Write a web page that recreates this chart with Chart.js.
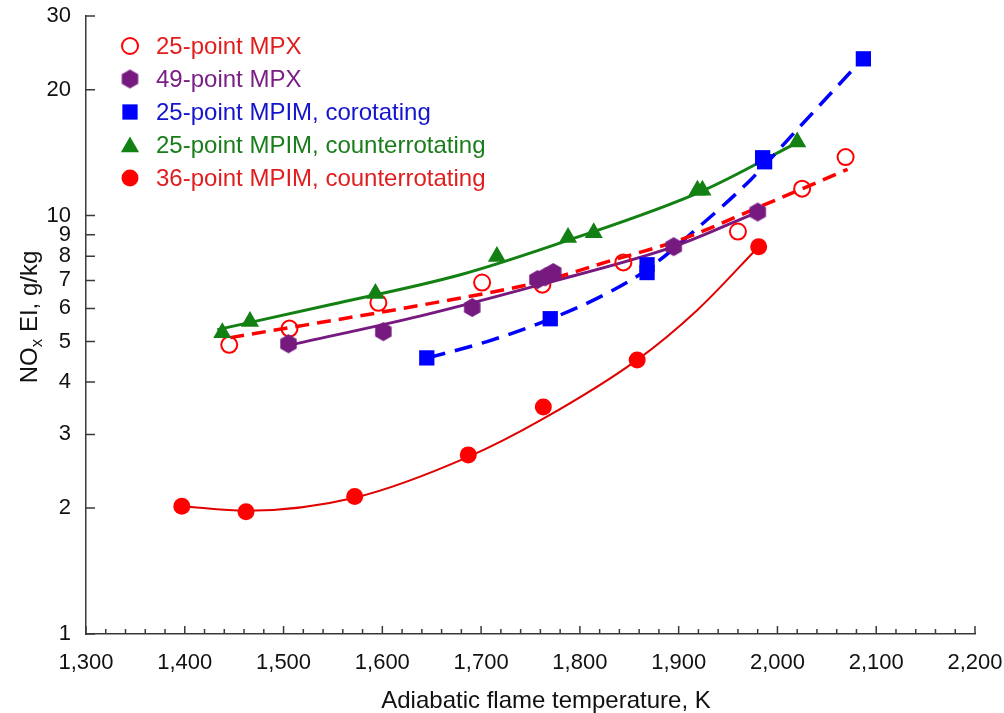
<!DOCTYPE html>
<html>
<head>
<meta charset="utf-8">
<title>NOx emission index vs adiabatic flame temperature</title>
<script src="https://cdn.jsdelivr.net/npm/chart.js@4.4.1/dist/chart.umd.min.js"></script>
<style>
  html, body { margin: 0; padding: 0; background: #fff; }
  canvas { display: block; }
</style>
</head>
<body>
<canvas id="myChart" width="1004" height="713"></canvas>
<script>
// axis setup
const xMin = 1300, xMax = 2200, xMajorStep = 100, xMinorStep = 20;
const xTicks = [1300, 1400, 1500, 1600, 1700, 1800, 1900, 2000, 2100, 2200];
const yTicks = [1, 2, 3, 4, 5, 6, 7, 8, 9, 10, 20, 30];

// measured points (temperature in K, NOx EI in g/kg)
const mpx25Temp = [1445, 1506, 1596, 1701, 1762, 1844, 1960, 2025, 2069];
const mpx25NOx  = [4.91, 5.37, 6.19, 6.92, 6.84, 7.73, 9.16, 11.6, 13.8];

const mpx49Temp = [1505, 1601, 1691, 1757, 1765, 1773, 1895, 1980];
const mpx49NOx  = [4.94, 5.28, 6.03, 7.03, 7.14, 7.31, 8.43, 10.2];

const coRotTemp = [1645, 1770, 1868, 1868, 1985, 1987, 2087];
const coRotNOx  = [4.57, 5.67, 7.31, 7.63, 13.75, 13.45, 23.7];

const ctr25Temp = [1438, 1466, 1593, 1716, 1788, 1814, 1919, 1924, 2020];
const ctr25NOx  = [5.25, 5.58, 6.51, 7.98, 8.86, 9.10, 11.5, 11.5, 15.0];

const ctr36Temp = [1397, 1462, 1572, 1687, 1763, 1858, 1981];
const ctr36NOx  = [2.02, 1.96, 2.13, 2.68, 3.49, 4.52, 8.43];

// trend curves
const mpx25FitTemp = [1446, 1659, 1760, 1828, 1902, 1980, 2071];
const mpx25FitNOx  = [5.11, 6.23, 6.95, 7.76, 8.76, 10.45, 12.9];

const mpx49FitTemp = [1507, 1639, 1760, 1895, 1980];
const mpx49FitNOx  = [4.91, 5.76, 6.84, 8.43, 10.2];

const coRotFitTemp = [1646, 1706, 1766, 1827, 1868, 1915, 1973, 2020, 2084];
const coRotFitNOx  = [4.57, 5.00, 5.61, 6.51, 7.43, 9.16, 12.19, 16.06, 23.36];

const ctr25FitTemp = [1433, 1547, 1679, 1790, 1922, 2020];
const ctr25FitNOx  = [5.34, 6.12, 7.22, 8.76, 11.4, 14.95];

const ctr36FitTemp = [1397, 1462, 1573, 1687, 1763, 1858, 1919, 1980];
const ctr36FitNOx  = [2.02, 1.97, 2.12, 2.65, 3.27, 4.52, 5.95, 8.38];

const RED = '#FF0000', PURPLE = '#761A80', BLUE = '#0000FF', GREEN = '#138013';
const AXIS = '#3A3A3A', TEXT = '#111111';
const FONT = '"Liberation Sans", Arial, sans-serif';

const pts = (xs, ys) => xs.map((v, i) => ({ x: v, y: ys[i] }));

// hexagon marker with pointy top, Chart.js has no built-in one
function makeHexagon(r, color) {
  const c = document.createElement('canvas');
  const w = Math.ceil(2 * r * Math.cos(Math.PI / 6)) + 2, h = Math.ceil(2 * r) + 2;
  c.width = w; c.height = h;
  const g = c.getContext('2d');
  g.fillStyle = color;
  g.beginPath();
  for (let k = 0; k < 6; k++) {
    const a = -Math.PI / 2 + k * Math.PI / 3;
    const px = w / 2 + r * Math.cos(a), py = h / 2 + r * Math.sin(a);
    if (k) g.lineTo(px, py); else g.moveTo(px, py);
  }
  g.closePath();
  g.fill();
  return c;
}
const hexagon = makeHexagon(9.5, PURPLE);

function markers(label, xs, ys, style, radius, fill, stroke, textColor, order) {
  return {
    label, data: pts(xs, ys), showLine: false, order,
    pointStyle: style, pointRadius: radius, pointHoverRadius: radius,
    pointBackgroundColor: fill, pointBorderColor: stroke,
    pointBorderWidth: fill === 'transparent' ? 2 : 0,
    textColor
  };
}

function curve(xs, ys, color, width, dash) {
  return {
    label: '', data: pts(xs, ys), showLine: true, order: 10,
    borderColor: color, borderWidth: width, borderDash: dash,
    pointRadius: 0, pointHoverRadius: 0,
    cubicInterpolationMode: 'monotone'
  };
}

const datasets = [
  markers('25-point MPX', mpx25Temp, mpx25NOx, 'circle', 8, 'transparent', RED, '#E01E1E', 5),
  markers('49-point MPX', mpx49Temp, mpx49NOx, hexagon, 9.5, PURPLE, PURPLE, '#7A1F85', 1),
  markers('25-point MPIM, corotating', coRotTemp, coRotNOx, 'rect', 10.8, BLUE, BLUE, '#1414CC', 4),
  markers('25-point MPIM, counterrotating', ctr25Temp, ctr25NOx, 'triangle', 10.5, GREEN, GREEN, '#1A7D1A', 2),
  markers('36-point MPIM, counterrotating', ctr36Temp, ctr36NOx, 'circle', 8.5, RED, RED, '#E01E1E', 3),
  curve(mpx25FitTemp, mpx25FitNOx, RED, 3.5, [14, 8]),
  curve(mpx49FitTemp, mpx49FitNOx, PURPLE, 3, []),
  curve(coRotFitTemp, coRotFitNOx, BLUE, 3.5, [18, 10]),
  curve(ctr25FitTemp, ctr25FitNOx, GREEN, 3, []),
  curve(ctr36FitTemp, ctr36FitNOx, '#E00000', 2, [])
];

// small tick marks pointing into the plot
const innerTicks = {
  id: 'innerTicks',
  afterDatasetsDraw(chart) {
    const { ctx, scales: { x, y }, chartArea: a } = chart;
    ctx.save();
    ctx.strokeStyle = AXIS;
    ctx.lineWidth = 1.5;
    ctx.beginPath();
    for (let t = xMin; t <= xMax; t += xMinorStep) {
      const px = x.getPixelForValue(t);
      const len = t % xMajorStep === 0 ? 8 : 5;
      ctx.moveTo(px, a.bottom);
      ctx.lineTo(px, a.bottom - len);
    }
    yTicks.forEach(v => {
      const py = y.getPixelForValue(v);
      ctx.moveTo(a.left, py);
      ctx.lineTo(a.left + 9, py);
    });
    ctx.stroke();
    ctx.restore();
  }
};

// axis titles (the y title needs a subscript)
const axisTitles = {
  id: 'axisTitles',
  afterDraw(chart) {
    const { ctx, chartArea: a } = chart;
    ctx.save();
    ctx.fillStyle = TEXT;
    ctx.textBaseline = 'alphabetic';
    ctx.textAlign = 'center';
    ctx.font = '24px ' + FONT;
    ctx.fillText('Adiabatic flame temperature, K', 546, 708);

    const big = '24px ' + FONT, small = '17px ' + FONT;
    ctx.font = big;
    const w1 = ctx.measureText('NO').width;
    const w3 = ctx.measureText(' EI, g/kg').width;
    ctx.font = small;
    const w2 = ctx.measureText('x').width;
    const total = w1 + w2 + w3;
    ctx.translate(28, (a.top + a.bottom) / 2 - 8);
    ctx.rotate(-Math.PI / 2);
    ctx.textAlign = 'left';
    let cx = -total / 2;
    ctx.font = big;
    ctx.fillText('NO', cx, 9);
    cx += w1;
    ctx.font = small;
    ctx.fillText('x', cx, 14);
    cx += w2;
    ctx.font = big;
    ctx.fillText(' EI, g/kg', cx, 9);
    ctx.restore();
  }
};

function drawMarker(ctx, ds, x, y) {
  const r = ds.pointRadius, s = ds.pointStyle;
  ctx.save();
  ctx.fillStyle = ds.pointBackgroundColor;
  ctx.strokeStyle = ds.pointBorderColor;
  ctx.lineWidth = ds.pointBorderWidth;
  if (s instanceof HTMLCanvasElement) {
    ctx.drawImage(s, x - s.width / 2, y - s.height / 2);
  } else if (s === 'circle') {
    ctx.beginPath();
    ctx.arc(x, y, r, 0, Math.PI * 2);
    ctx.fill();
    if (ds.pointBorderWidth) ctx.stroke();
  } else if (s === 'rect') {
    const h = r * Math.SQRT1_2;
    ctx.fillRect(x - h, y - h, 2 * h, 2 * h);
  } else if (s === 'triangle') {
    ctx.beginPath();
    ctx.moveTo(x, y - r);
    ctx.lineTo(x + r * Math.sin(2 * Math.PI / 3), y + r * 0.5);
    ctx.lineTo(x - r * Math.sin(2 * Math.PI / 3), y + r * 0.5);
    ctx.closePath();
    ctx.fill();
  }
  ctx.restore();
}

// legend in the upper left corner of the plot
const insideLegend = {
  id: 'insideLegend',
  afterDraw(chart) {
    const ctx = chart.ctx;
    ctx.save();
    ctx.font = '24px ' + FONT;
    ctx.textBaseline = 'middle';
    ctx.textAlign = 'left';
    let row = 0;
    chart.data.datasets.forEach(ds => {
      if (!ds.label) return;
      const y = 46 + row * 33;
      drawMarker(ctx, ds, 130, y + (ds.pointStyle === 'triangle' ? 2 : 0));
      ctx.fillStyle = ds.textColor;
      ctx.fillText(ds.label, 156, y + 1);
      row++;
    });
    ctx.restore();
  }
};

const config = {
  type: 'scatter',
  data: { datasets },
  options: {
    responsive: false,
    animation: false,
    layout: { padding: { left: 0, right: 29, top: 16, bottom: 0 } },
    plugins: {
      legend: { display: false },
      tooltip: { enabled: false }
    },
    scales: {
      x: {
        type: 'linear',
        min: xMin,
        max: xMax,
        afterBuildTicks: s => { s.ticks = xTicks.map(v => ({ value: v })); },
        afterFit: s => { s.height = 79; s.paddingLeft = 0; s.paddingRight = 0; },
        grid: { display: false, drawTicks: false },
        border: { display: true, color: AXIS, width: 1.5 },
        ticks: {
          padding: 16,
          color: TEXT,
          autoSkip: false,
          maxRotation: 0,
          font: { size: 22, family: FONT },
          callback: v => v.toLocaleString('en-US')
        }
      },
      y: {
        type: 'logarithmic',
        min: 1,
        max: 30,
        afterBuildTicks: s => { s.ticks = yTicks.map(v => ({ value: v })); },
        afterFit: s => { s.width = 86; s.paddingTop = 0; s.paddingBottom = 0; },
        grid: { display: false, drawTicks: false },
        border: { display: true, color: AXIS, width: 1.5 },
        ticks: {
          padding: 15,
          color: TEXT,
          autoSkip: false,
          font: { size: 22, family: FONT },
          callback: v => String(v)
        }
      }
    }
  },
  plugins: [innerTicks, axisTitles, insideLegend]
};

const myChart = new Chart(document.getElementById('myChart'), config);
</script>
</body>
</html>
